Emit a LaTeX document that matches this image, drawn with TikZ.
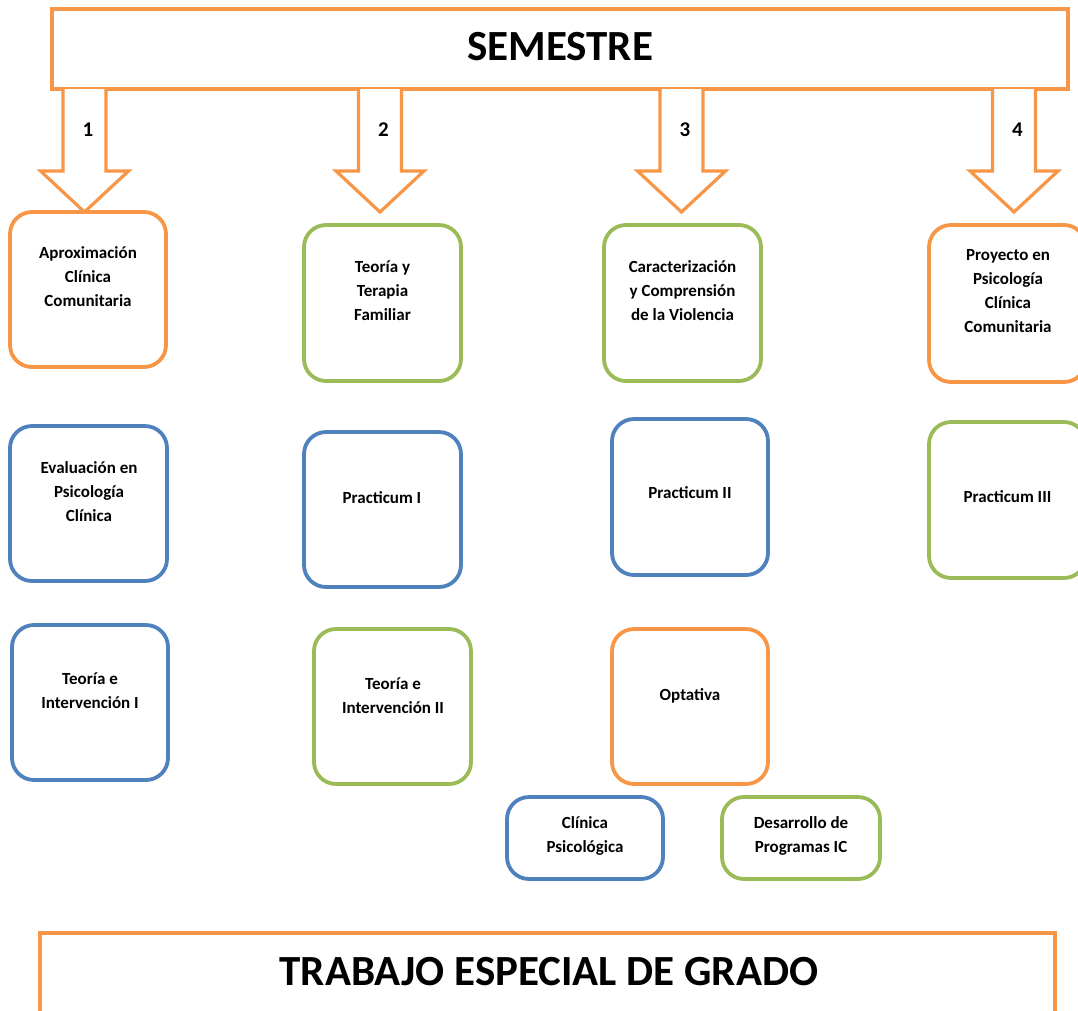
\documentclass[tikz,border=0pt]{standalone}
\usepackage{fontspec}
\setmainfont{Carlito}
\definecolor{oorange}{HTML}{F79646}
\definecolor{ogreen}{HTML}{9BBB59}
\definecolor{oblue}{HTML}{4F81BD}
\begin{document}
\begin{tikzpicture}[x=1pt,y=-1pt,
  bx/.style={draw=#1, line width=3.8pt, rounded corners=22pt, fill=white, inner sep=0pt},
  bigbox/.style={draw=oorange, line width=3.4pt, fill=white, inner sep=0pt},
  txt/.style={font=\fontsize{17}{24}\selectfont\bfseries, align=center, inner sep=0pt},
  numtxt/.style={font=\fontsize{21}{24}\selectfont\bfseries, inner sep=0pt},
  ttl/.style={font=\fontsize{43}{50}\selectfont\bfseries, inner sep=0pt},
  blockarrow/.style={draw=oorange, line width=3.2pt, fill=white, line join=miter}
]
\useasboundingbox (0,0) rectangle (1078,1010);
\clip (0,0) rectangle (1078,1010);

% top box
\node[bigbox, minimum width=1016pt, minimum height=80pt] (top) at (560,49) {};
\node[ttl] (ttop) at (560,46.5) {SEMESTRE};

% block arrows
\foreach \c/\n [count=\i] in {84.5/1, 380/2, 681.5/3, 1014/4} {
  \draw[blockarrow] (\c-21.5,89) -- (\c-21.5,171) -- (\c-44,171) -- (\c,212)
    -- (\c+44,171) -- (\c+21.5,171) -- (\c+21.5,89);
  \node[numtxt] (num\i) at (\c+3.5,129.5) {\n};
}

% row 1
\node[bx=oorange, minimum width=156pt, minimum height=155pt] (A) at (88,289.5) {};
\node[txt] (tA) at (88,277) {Aproximación\\Clínica\\Comunitaria};
\node[bx=ogreen, minimum width=157pt, minimum height=156pt] (B) at (382.5,303) {};
\node[txt] (tB) at (382.5,291) {Teoría y\\Terapia\\Familiar};
\node[bx=ogreen, minimum width=157pt, minimum height=156pt] (C) at (682.5,303) {};
\node[txt] (tC) at (682.5,291) {Caracterización\\y Comprensión\\de la Violencia};
\node[bx=oorange, minimum width=157pt, minimum height=157pt] (D) at (1007.5,303.5) {};
\node[txt] (tD) at (1008,291) {Proyecto en\\Psicología\\Clínica\\Comunitaria};

% row 2
\node[bx=oblue, minimum width=157pt, minimum height=155pt] (E) at (88.5,503.5) {};
\node[txt] (tE) at (89,492) {Evaluación en\\Psicología\\Clínica};
\node[bx=oblue, minimum width=157pt, minimum height=155pt] (F) at (382.5,509.5) {};
\node[txt] (tF) at (382,498) {Practicum I};
\node[bx=oblue, minimum width=156pt, minimum height=156pt] (G) at (690,497) {};
\node[txt] (tG) at (690,493) {Practicum II};
\node[bx=ogreen, minimum width=157pt, minimum height=156pt] (H) at (1007.5,500) {};
\node[txt] (tH) at (1007.5,497) {Practicum III};

% row 3
\node[bx=oblue, minimum width=156pt, minimum height=155pt] (I) at (90,702.5) {};
\node[txt] (tI) at (90,691) {Teoría e\\Intervención I};
\node[bx=ogreen, minimum width=157pt, minimum height=155pt] (J) at (392.5,706.5) {};
\node[txt] (tJ) at (393,695.5) {Teoría e\\Intervención II};
\node[bx=oorange, minimum width=156pt, minimum height=155pt] (K) at (690,706.5) {};
\node[txt] (tK) at (690,696) {Optativa};

% row 4
\node[bx=oblue, minimum width=156pt, minimum height=82pt] (L) at (585,838) {};
\node[txt] (tL) at (585,835.5) {Clínica\\Psicológica};
\node[bx=ogreen, minimum width=158pt, minimum height=82pt] (M) at (801,838) {};
\node[txt] (tM) at (801,835.5) {Desarrollo de\\Programas IC};

% bottom box
\node[bigbox, minimum width=1015pt, minimum height=120pt] (bot) at (547.5,993) {};
\node[ttl] (tbot) at (549,971.5) {TRABAJO ESPECIAL DE GRADO};
\end{tikzpicture}
\end{document}
